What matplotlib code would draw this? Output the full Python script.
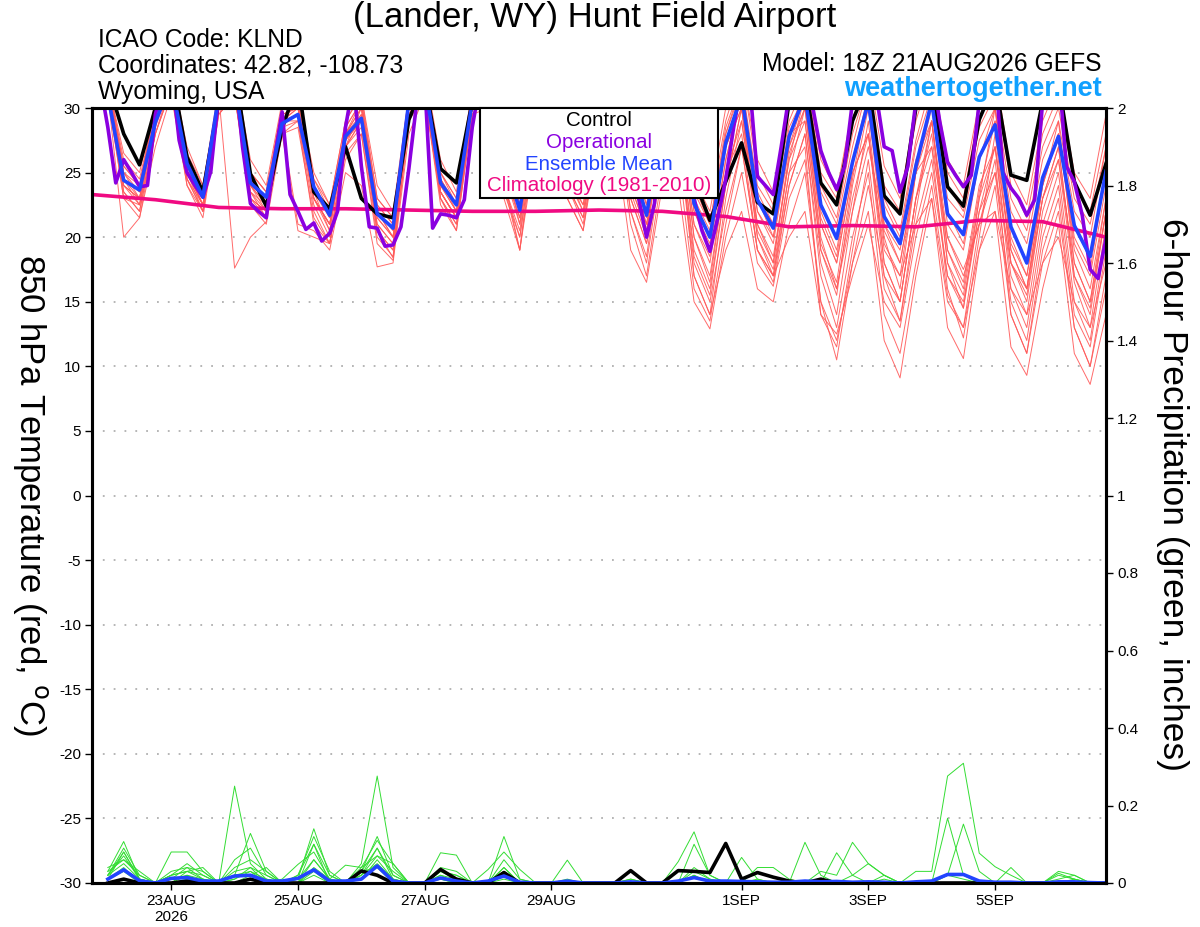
import numpy as np
import matplotlib
matplotlib.use("Agg")
from matplotlib import pyplot as plt
from matplotlib.patches import Rectangle

plt.rcParams['font.family'] = ['Liberation Sans', 'DejaVu Sans']
plt.rcParams['axes.unicode_minus'] = False

# forecast hours counted from 18Z 21AUG2026
fhr = np.arange(6, 385, 6)
op_fhr = np.arange(3, 385, 3)
clim_fhr = np.arange(0, 385, 24)

tick_hours = [30, 78, 126, 174, 246, 294, 342]
tick_labels = ["23AUG\n2026", "25AUG", "27AUG", "29AUG", "1SEP", "3SEP", "5SEP"]

# 850 hPa temperature (C), one row per day: 00Z 06Z 12Z 18Z
control = [32, 28.0, 25.6, 30.0,  33, 26.2, 23.5, 30.5,  33, 24.9, 22.4, 28.4,
           32, 23.5, 22.2, 27.0,  23.0, 21.8, 21.5, 29.1,  32, 25.3, 24.2, 30.5,
           32, 27, 24, 30,  32, 27, 24, 30,  32, 28, 25, 30,  31, 24.5, 21.3, 24.3,
           27.3, 22.7, 21.8, 30.5,  32, 24.2, 22.5, 29,  32, 23.2, 21.8, 30,
           32, 23.9, 22.4, 29.1,  32, 24.8, 24.4, 30.5,  32, 24.3, 21.7, 25.7]

ens_mean = [31, 24.4, 23.65, 28.9,  32, 25.7, 23.1, 31,  32, 24.2, 23.1, 28.8,
            29.5, 23.9, 21.7, 27.8,  29.2, 21.8, 20.7, 30.5,  32, 24.2, 22.5, 30.5,
            32, 26, 22.1, 30,  32, 26, 23.5, 30,  32, 26, 21.7, 29,  31, 22.6, 20.0, 27.3,
            31, 22.9, 20.7, 27.8,  31, 22.5, 19.9, 25.8,  30.5, 21.6, 19.5, 25.5,
            30.5, 21.8, 20.2, 26.2,  28.7, 20.8, 18.0, 24.6,  27.8, 20.9, 18.5, 25.1]

# operational run, 3-hourly
operational = [32, 28.5, 24.2, 26.0, 25.0, 23.9, 24.0, 29.5,
               32, 33, 27.5, 25.0, 24.0, 23.1, 25.1, 31,
               33, 33, 27, 22.6, 22.0, 21.5, 26, 29.7,
               23.3, 22.0, 20.6, 21.1, 19.7, 20.3, 22.0, 28.5,
               32, 25.5, 20.8, 20.7, 19.3, 19.4, 20.8, 25.3,
               30.5, 32, 20.7, 21.8, 21.7, 21.5, 22.9, 28.5,
               32, 32, 28, 26, 25, 24, 26, 30,
               32, 33, 29, 26, 25, 24, 26, 30,
               32, 33, 28, 25, 23, 20.0, 22.6, 30,
               32, 33, 28, 23, 20.5, 18.9, 21.5, 24.5,
               28.5, 32, 32, 24.7, 24.0, 23.3, 27, 31,
               33, 33, 30, 26.7, 25, 23.7, 25.5, 30.5,
               32, 33, 31, 27, 26.7, 23.5, 25.5, 30.5,
               32, 33, 29, 25.8, 24.8, 23.9, 24.8, 30.5,
               32, 33, 25, 23.8, 23.0, 21.7, 22.9, 30.5,
               32, 33, 25.5, 24.3, 21.7, 17.5, 16.8, 19.9]

climatology = [23.3, 22.9, 22.3, 22.2, 22.2, 22.1, 22.0, 22.0, 22.1,
               22.0, 21.6, 20.8, 20.9, 20.8, 21.3, 21.2, 20.0]

mem01 = [32, 26, 24.5, 30, 33, 26.5, 24, 31, 33, 25, 23.5, 30, 31, 24.5, 22.5, 29,
         31, 23, 21.5, 31, 33, 25, 23, 31, 33, 27, 23.5, 31, 33, 27, 24.5, 31,
         33, 27, 23, 30, 32, 24.5, 22, 29, 33, 25, 22.5, 30, 33, 25, 23, 29,
         32, 24, 22, 29, 33, 25, 23, 30, 32, 24, 21.5, 28, 31, 24, 22, 28]
mem02 = [31, 23, 22.5, 28, 32, 24.5, 22.5, 30.5, 32, 23.5, 22, 28, 20.5, 20, 19.5, 26,
         28, 20, 18.5, 29, 31.5, 23.5, 21.5, 30, 31.5, 25, 21, 29, 31, 24.5, 22, 28.5,
         30, 23, 19.5, 26, 28, 18, 15, 22, 27, 19, 17, 24, 28, 17, 13, 20,
         25, 14, 11, 18, 24, 15.5, 13, 21, 26, 14, 11, 19, 23, 13, 10, 17]
mem03 = [32, 25, 23, 29.5, 31, 25, 22.5, 30, 31, 23, 22, 28, 29, 23, 21, 27,
         30, 22, 20, 30, 32, 23.5, 21.5, 30, 32, 26, 22, 30, 32, 25.5, 23, 30,
         32, 25, 21, 28, 30, 21, 18, 26, 31, 22, 19.5, 27, 30, 20, 16, 23,
         28, 17, 13.5, 22, 29, 19, 16.5, 24, 27, 17, 14, 22, 26, 16.5, 13, 21]
mem04 = [31, 24, 23, 29, 32, 25.5, 23.5, 31, 17.6, 20, 21.2, 29, 31, 24.5, 22, 28,
         30, 22, 20.5, 30, 32, 24.5, 22.5, 30.5, 32.5, 26.5, 22.5, 30, 32, 26.5, 24, 30.5,
         33, 27, 22.5, 29.5, 32, 23.5, 21, 28.5, 32, 24, 22, 29, 32, 23.5, 21, 27,
         32, 22.5, 20, 27, 31, 23, 21.5, 27.5, 30, 22, 19.5, 26, 29, 22, 20, 27]
mem05 = [31.5, 24.5, 23.5, 29, 32, 26, 23, 30.5, 32, 24, 23, 29, 30, 23, 21, 27.5,
         29, 21, 19.5, 30, 31, 23, 21, 29.5, 30, 23, 19, 27, 30, 23, 20.5, 28,
         28, 19, 16.5, 24, 24, 15, 12.9, 20, 25, 18, 16.2, 23, 26, 15, 10.5, 18,
         22, 12, 9.1, 17, 23, 13, 10.6, 19, 22, 11.5, 9.3, 16, 21, 11, 8.6, 14]
mem06 = [32, 25.5, 24, 30, 32.5, 25, 22.5, 30, 32, 23, 22, 29, 30.5, 23.5, 20.5, 28,
         29.5, 20.5, 18.4, 29, 32, 24, 22, 30, 31, 24, 20, 28.5, 31.5, 24.5, 22.5, 29.5,
         31, 24, 20.5, 28, 30, 20, 17, 25, 29, 21, 18.5, 26, 29, 19, 15.5, 24,
         30, 19.5, 17, 25, 27, 16, 12.2, 20, 28, 18, 15, 23, 27, 17, 14.5, 22]
mem07 = [32, 26.5, 25, 30.5, 33, 27, 24, 31.5, 33, 26, 24, 30.5, 31, 25, 22.5, 29,
         31, 24, 22, 31, 33, 26, 23.5, 31.5, 33, 27.5, 24, 31.5, 33, 27.5, 25, 31.5,
         33, 27.5, 24, 31, 33, 26, 23, 30, 33, 26, 23.5, 30.5, 33, 26, 23.5, 30,
         33, 25.5, 23, 30, 33, 26, 24, 30.5, 33, 25, 22.5, 29, 32, 25, 23, 29.5]
mem08 = [31, 23.5, 22, 28, 31.5, 24.5, 22, 30, 31, 23, 21.5, 28.5, 21, 20.5, 19, 25,
         24, 17.7, 18, 28, 31, 23, 21, 29.5, 31, 24.5, 19, 28, 31, 24, 21.5, 29,
         30, 22, 18, 26, 28, 17, 14, 23, 29, 20, 17.5, 25, 27, 14, 11.5, 19,
         26, 16, 13.5, 21, 26, 17, 14.5, 22, 25, 15, 12, 20, 24, 14, 11.5, 19]
mem09 = [32, 24.5, 23, 29, 32, 25.5, 22.5, 30.5, 32, 24.5, 23, 29.5, 30, 23, 21, 28,
         30, 22.5, 21, 30, 32.5, 24.5, 22.5, 30.5, 32.5, 26.5, 23, 30.5, 32.5, 26, 23.5, 30.5,
         32, 25.5, 22, 29, 31, 22, 19.5, 27, 30, 21, 18, 26, 31, 21.5, 18.5, 26,
         31, 21, 18, 25, 31, 22, 19.5, 26, 30, 20, 17, 24, 28, 19, 16, 23]
mem10 = [31, 20.0, 21.5, 27, 31, 24, 22, 29.5, 31, 23.5, 22.5, 29, 29.5, 23, 21, 27.5,
         29, 21.5, 20, 29.5, 31.5, 23.5, 21.5, 30, 31.5, 24, 19, 29, 31, 24, 21, 28.5,
         30, 21, 17, 25, 26, 16, 13.5, 21, 27, 19, 17, 25, 30, 21, 18, 25,
         28, 18, 15, 23, 28, 18, 15.5, 23, 27, 16, 13, 21, 25, 15, 12, 20]
mem11 = [32.5, 25, 24, 30, 33, 26, 23.5, 31, 32.5, 25, 23.5, 30, 30.5, 24, 21.5, 28.5,
         30.5, 22.5, 21, 31, 33, 25, 22.5, 31, 33, 27, 22.5, 31, 32.5, 26.5, 24, 30,
         31, 23, 19.5, 26.5, 29, 19, 16, 24, 30, 22, 20, 27.5, 32, 24, 21.5, 28,
         32, 23, 20.5, 27.5, 32, 24, 22, 28.5, 31, 23, 20.5, 27, 30, 23, 21, 27]
mem12 = [31.5, 24, 22.5, 29, 32, 25, 22, 30.5, 32, 24, 22.5, 29, 29, 22, 19.5, 27,
         29, 21, 19.5, 30, 32, 23.5, 21.5, 30, 32, 25.5, 21.5, 30, 32, 25.5, 23, 30,
         32, 25, 21, 28, 30, 20, 16.5, 25, 28, 19, 16.5, 24, 28, 18, 14, 22,
         29, 18, 15, 23, 29, 19, 16, 23.5, 29, 18, 15.5, 23, 27, 17, 14, 22]
mem13 = [32, 25, 23.5, 29.5, 32.5, 26, 23, 30.5, 32.5, 24.5, 22.5, 29.5, 30, 23.5, 21.5, 28,
         30.5, 22, 20, 30.5, 32.5, 24.5, 22, 30.5, 32.5, 26.5, 23, 31, 32.5, 26, 23.5, 30.5,
         32.5, 26, 22, 29.5, 31.5, 23, 20.5, 28, 31.5, 23.5, 21, 28.5, 31, 22, 19, 26,
         30, 20.5, 18, 25, 30, 21, 19, 26, 29, 19.5, 17, 24.5, 28, 19.5, 17, 24]
mem14 = [31.5, 23.5, 22, 28.5, 32, 24.5, 22, 30, 31.5, 23.5, 21.5, 28.5, 29, 21, 19.5, 27,
         28.5, 20.5, 19, 29.5, 31.5, 23, 20.5, 29.5, 31, 23.5, 20, 28.5, 31, 23, 20.5, 29,
         31, 22, 18.5, 27, 29, 18.5, 15.5, 24, 30, 20.5, 18, 26.5, 30, 19.5, 16.5, 24.5,
         31, 20, 16, 25, 29, 18, 14.5, 23, 30, 19, 16, 24, 29, 18, 15, 23]
mem15 = [31.5, 24, 23, 29, 32, 25, 23, 30.5, 32, 24, 22.5, 29, 29.5, 22.5, 20, 27,
         29, 20.5, 19, 29.5, 31.5, 23.5, 21.5, 30, 31.5, 25, 21.5, 29.5, 31.5, 25, 22.5, 29.5,
         31.5, 24, 20.5, 28, 29, 17, 14, 19, 22, 16, 15, 21, 25, 15, 12, 18,
         24, 17, 15, 23, 27, 20, 17, 21, 22, 16, 14, 18, 20, 15, 13, 18]
mem16 = [32, 25.5, 24, 30, 32.5, 26, 23.5, 31, 32.5, 25, 23.5, 30, 30.5, 24, 22, 28.5,
         30.5, 23, 21.5, 31, 32.5, 25, 23, 31, 32.5, 26.5, 22.5, 30.5, 32.5, 26.5, 24, 31,
         32, 26, 22.5, 29.5, 31, 22, 19, 27, 30, 20, 17, 20, 22, 14, 12.5, 17,
         21, 15, 13, 20, 25, 17, 15, 22, 27, 19, 16, 23, 26, 18, 15, 22]
mem17 = [31, 23, 21.5, 28, 31.5, 24, 21.5, 29.5, 31, 22.5, 21, 28, 28.5, 21.5, 19.5, 26.5,
         28, 19.5, 18.2, 29, 31, 22.5, 20.5, 29.5, 31, 24, 20.5, 29, 31, 24, 21.5, 29,
         31, 23.5, 20, 28.5, 32, 24, 21, 28, 32, 23, 20, 27, 31, 21, 18, 25,
         28, 19, 17, 21, 23, 15, 13, 19, 24, 14, 11, 18, 22, 13, 10, 16]
mem18 = [32, 24.5, 22.5, 29, 32, 25, 22.5, 30.5, 32, 24, 22, 29, 30, 23, 20.5, 27.5,
         29.5, 21.5, 20, 30, 32, 24, 22, 30, 32, 26, 21, 29.5, 32, 25, 22, 29.5,
         32, 25, 21.5, 28.5, 30, 21, 18.5, 26, 31, 23, 21, 28, 29, 19, 16, 22,
         27, 21, 19, 26, 29, 20, 17.5, 21, 25, 18, 16, 24, 28, 20, 17.5, 25]
temp_members = [mem01, mem02, mem03, mem04, mem05, mem06, mem07, mem08, mem09,
                mem10, mem11, mem12, mem13, mem14, mem15, mem16, mem17, mem18]

# 6-hour precipitation (inches)
pcp_control = [0, .01, 0, 0,  0, .005, 0, 0,  0, .01, 0, 0,  0, 0, 0, 0,
               .031, .02, 0, 0,  0, .035, .01, 0,  0, .027, 0, 0,  0, 0, 0, 0,
               0, .032, 0, 0,  .032, .03, .027, .102,  .01, .027, .015, .005,  0, .01, 0, 0,
               0, 0, 0, 0,  0, 0, 0, 0,  0, 0, 0, 0,  0, 0, 0, 0]
pcp_mean = [.01, .034, .006, 0,  .012, .014, .005, .005,  .018, .02, .005, .005,
            .012, .034, .005, .005,  .01, .044, .005, 0,  0, .013, .005, 0,
            .005, .018, .002, 0,  0, .005, 0, 0,  0, .003, 0, 0,  .005, .014, .005, .005,
            .004, .003, .002, .002,  .005, .003, .004, .002,  .003, .002, 0, .003,
            .005, .022, .022, .005,  .002, .002, 0, 0,  .003, .003, .001, 0]
pcp01 = [.03, .107, .01, 0, 0, .02, .01, 0, .25, .05, .01, 0, 0, .06, .01, 0,
         .02, .09, .01, 0, 0, .02, .01, 0, 0, .03, 0, 0, 0, 0, 0, 0,
         0, 0, 0, 0, 0, .04, .01, 0, 0, 0, 0, 0, 0, 0, 0, 0,
         0, 0, 0, 0, 0, .02, .01, 0, 0, 0, 0, 0, 0, 0, 0, 0]
pcp02 = [.02, .09, .02, 0, 0, .03, .04, 0, .03, .04, 0, 0, .02, .10, .02, 0,
         .05, .276, .04, 0, 0, .03, .01, 0, 0, .12, .01, 0, 0, 0, 0, 0,
         0, 0, 0, 0, 0, .02, 0, 0, 0, 0, 0, 0, 0, .03, .02, .105,
         .05, .02, 0, 0, 0, 0, 0, 0, 0, 0, 0, 0, 0, 0, 0, 0]
pcp03 = [.01, .08, .01, 0, .08, .08, .03, 0, .02, .128, .03, 0, 0, .04, .01, 0,
         .03, .12, .02, 0, 0, .078, .072, 0, 0, .04, 0, 0, 0, .059, 0, 0,
         0, 0, 0, 0, .055, .132, .02, 0, .066, .01, 0, 0, 0, 0, 0, 0,
         0, .01, 0, .03, .03, .276, .309, .077, .042, .02, 0, 0, .03, .02, 0, 0]
pcp04 = [.02, .07, .01, 0, .03, .04, .01, 0, .06, .09, .02, 0, .01, .14, .02, 0,
         .04, .11, .05, 0, 0, .03, .02, 0, .035, .08, .035, 0, 0, .01, 0, 0,
         0, 0, 0, 0, 0, .10, .02, 0, 0, 0, 0, 0, 0, 0, 0, 0,
         0, 0, 0, 0, 0, .167, .02, 0, 0, 0, 0, 0, 0, 0, 0, 0]
pcp05 = [.03, .06, .02, 0, .02, .05, .02, 0, .04, .06, .03, 0, .02, .12, .03, 0,
         .03, .09, .02, 0, 0, .04, .03, 0, 0, .06, .01, 0, 0, 0, 0, 0,
         0, .01, 0, 0, 0, .03, .01, 0, 0, .04, .04, .01, 0, 0, .078, .02,
         0, 0, 0, 0, 0, .02, .152, .03, 0, .04, 0, 0, .025, .01, 0, 0]
pcp06 = [.02, .05, .01, 0, .01, .04, .03, 0, .02, .03, 0, .01, .048, .08, .01, 0,
         .02, .07, .03, 0, 0, .02, 0, 0, 0, .02, 0, 0, 0, 0, 0, 0,
         0, 0, 0, 0, 0, .02, 0, 0, 0, .01, 0, 0, .105, .02, 0, 0,
         0, 0, 0, 0, 0, 0, 0, 0, 0, 0, 0, 0, .02, .01, 0, 0]
pcp07 = [.01, .04, 0, 0, .02, .03, .01, 0, .01, .04, .02, 0, .01, .06, .01, .046,
         .04, .07, .05, 0, 0, .03, .02, 0, 0, .03, 0, 0, 0, 0, 0, 0,
         0, .01, 0, 0, 0, 0, 0, 0, 0, 0, 0, 0, 0, 0, 0, .02,
         .05, .02, 0, 0, 0, 0, 0, 0, 0, 0, 0, 0, 0, 0, 0, 0]
pcp08 = [.02, .08, .01, 0, .01, .02, 0, 0, .02, .02, .01, 0, 0, .02, 0, 0,
         .01, .06, .01, 0, 0, .01, 0, 0, 0, .01, 0, 0, 0, 0, 0, 0,
         0, 0, 0, 0, 0, 0, 0, 0, 0, 0, 0, 0, 0, 0, 0, 0,
         0, 0, 0, 0, 0, 0, 0, 0, 0, 0, 0, 0, 0, .01, 0, 0]
pcp09 = [.01, .03, 0, 0, 0, .01, 0, 0, 0, .02, .04, 0, 0, .03, 0, 0,
         .02, .05, .01, 0, 0, .01, 0, 0, 0, 0, 0, 0, 0, 0, 0, 0,
         0, 0, 0, 0, 0, 0, 0, 0, 0, 0, 0, 0, 0, 0, 0, 0,
         0, .02, 0, 0, 0, 0, 0, 0, 0, 0, 0, 0, 0, 0, 0, 0]
pcp10 = [.04, .06, .03, 0, .02, .03, .02, 0, .01, .03, .01, 0, 0, .10, 0, 0,
         .03, .04, 0, 0, 0, 0, 0, 0, 0, .04, 0, 0, 0, 0, 0, 0,
         0, 0, 0, 0, 0, 0, 0, 0, 0, 0, 0, 0, 0, 0, 0, 0,
         0, 0, 0, 0, 0, 0, 0, 0, 0, 0, 0, 0, .01, .02, 0, 0]
pcp_members = [pcp01, pcp02, pcp03, pcp04, pcp05, pcp06, pcp07, pcp08, pcp09, pcp10]

RED = '#ff5a5a'
GREEN = '#33dd33'
PURPLE = '#8a00e0'
BLUE = '#2244ff'
PINK = '#f00a82'

fig = plt.figure(figsize=(12, 9.27), dpi=100)
ax = fig.add_axes([92 / 1200, 44 / 927, 1014 / 1200, 775 / 927])
ax.set_xlim(0, 384)
ax.set_ylim(-30, 30)

for m in temp_members:
    ax.plot(fhr, m, color=RED, lw=0.7, alpha=0.9)
ax.plot(clim_fhr, climatology, color=PINK, lw=2.6)
ax.plot(fhr, control, color='black', lw=2.6)
ax.plot(op_fhr, operational, color=PURPLE, lw=2.6)
ax.plot(fhr, ens_mean, color=BLUE, lw=2.6)

ax.set_yticks(range(-30, 31, 5))
ax.yaxis.grid(True, linestyle=(0, (1, 5)), color='#b0b0b0', lw=1.3)
ax.set_xticks(tick_hours)
ax.set_xticklabels(tick_labels)
ax.tick_params(direction='out', length=5, width=1, labelsize=11, pad=3)

ax2 = ax.twinx()
ax2.set_ylim(0, 2)
for p in pcp_members:
    ax2.plot(fhr, p, color=GREEN, lw=0.7)
ax2.plot(fhr, pcp_control, color='black', lw=2.6)
ax2.plot(fhr, pcp_mean, color=BLUE, lw=2.6)
ax2.set_yticks(np.arange(0, 2.01, 0.2))
ax2.set_yticklabels(['%g' % round(v, 1) for v in np.arange(0, 2.01, 0.2)])
ax2.tick_params(direction='out', length=5, width=1, labelsize=11, pad=3)

for a in (ax, ax2):
    for s in a.spines.values():
        s.set_linewidth(2.2)

# legend box
fig.add_artist(Rectangle((480 / 1200, 1 - 198 / 927), 238 / 1200, 90 / 927,
                         transform=fig.transFigure, facecolor='white',
                         edgecolor='black', lw=1.5, zorder=5))
leg_items = [("Control", 'black'), ("Operational", PURPLE),
             ("Ensemble Mean", BLUE), ("Climatology (1981-2010)", PINK)]
for k, (txt, col) in enumerate(leg_items):
    fig.text(599 / 1200, 1 - (121 + 21.5 * k) / 927, txt, color=col,
             fontsize=14.8, ha='center', va='center', zorder=6)

fig.text(595 / 1200, 1 - 18 / 927, "(Lander, WY) Hunt Field Airport",
         fontsize=25, ha='center', va='center')
fig.text(98 / 1200, 1 - 40 / 927, "ICAO Code: KLND", fontsize=17.7, va='center')
fig.text(98 / 1200, 1 - 66 / 927, "Coordinates: 42.82, -108.73", fontsize=17.7, va='center')
fig.text(98 / 1200, 1 - 92 / 927, "Wyoming, USA", fontsize=17.7, va='center')
fig.text(1102 / 1200, 1 - 64 / 927, "Model: 18Z 21AUG2026 GEFS", fontsize=17.7,
         ha='right', va='center')
fig.text(1102 / 1200, 1 - 89 / 927, "weathertogether.net", fontsize=19.5,
         fontweight='bold', color='#10a0ff', ha='right', va='center')

fig.text(30 / 1200, 1 - 495 / 927, r"850 hPa Temperature (red, $^{\mathrm{o}}$C)",
         fontsize=25, rotation=270, ha='center', va='center')
fig.text(1172 / 1200, 1 - 495 / 927, "6-hour Precipitation (green, inches)",
         fontsize=25.5, rotation=270, ha='center', va='center')

fig.savefig("out.png", dpi=100)
